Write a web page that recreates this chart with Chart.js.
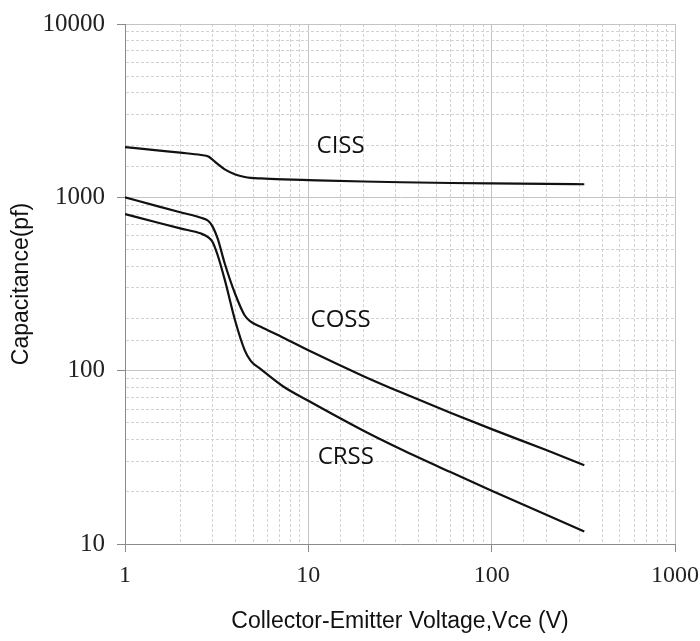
<!DOCTYPE html>
<html>
<head>
<meta charset="utf-8">
<title>Capacitance vs Vce</title>
<script src="https://cdn.jsdelivr.net/npm/chart.js@4.4.1/dist/chart.umd.min.js"></script>
<style>
    html, body { margin: 0; padding: 0; background: #fff; }
    #wrap { width: 700px; height: 641px; position: relative; }
</style>
</head>
<body>
<div id="wrap"><canvas id="capChart"></canvas></div>
<script>
// Collector-emitter voltage (V) sample points
const vce = [1, 1.5, 2, 2.6, 2.85, 3.0, 3.2, 3.5, 4.0, 4.5, 4.85, 5.5, 7.3, 10, 20, 32, 60, 100, 200, 320];
// Capacitances in pF at each voltage
const ciss = [1950, 1865, 1810, 1755, 1720, 1650, 1560, 1450, 1355, 1310, 1295, 1285, 1270, 1258, 1234, 1222, 1210, 1203, 1195, 1190];
const coss = [1000, 890, 820, 762, 730, 680, 580, 415, 275, 208, 192, 179, 155, 131, 93, 75, 57, 46, 34.7, 28.5];
const crss = [800, 716, 662, 618, 588, 555, 465, 335, 192, 131, 114, 102, 81, 67, 45, 35.2, 25.9, 20.3, 14.7, 11.8];

// Curve name labels and where they sit (data coordinates)
const curveNames = ['CISS', 'COSS', 'CRSS'];
const curveNameX = [15, 15, 16];
const curveNameY = [1980, 196, 31.7];

const xMin = 1, xMax = 1000;
const yMin = 10, yMax = 10000;

const isDecade = v => Math.abs(Math.log10(v) - Math.round(Math.log10(v))) < 1e-9;

const toPoints = ys => vce.map((v, i) => ({ x: v, y: ys[i] }));

const lineStyle = {
    borderColor: '#111',
    borderWidth: 2.2,
    pointRadius: 0,
    fill: false,
    cubicInterpolationMode: 'monotone'
};

const curveLabels = {
    id: 'curveLabels',
    afterDatasetsDraw(chart) {
        const { ctx, scales } = chart;
        ctx.save();
        ctx.font = '24px "Open Sans", sans-serif';
        ctx.fillStyle = '#111';
        ctx.textAlign = 'center';
        ctx.textBaseline = 'middle';
        curveNames.forEach((name, i) => {
            ctx.fillText(name, scales.x.getPixelForValue(curveNameX[i]), scales.y.getPixelForValue(curveNameY[i]));
        });
        ctx.restore();
    }
};

function gridFor() {
    return {
        color: c => (c.tick && isDecade(c.tick.value)) ? '#c4c4c4' : '#d2d2d2',
        lineWidth: 1,
        tickLength: 8,
        tickColor: c => (c.tick && isDecade(c.tick.value)) ? '#8a8a8a' : 'rgba(0,0,0,0)'
    };
}

function borderFor() {
    return {
        color: '#8a8a8a',
        width: 1,
        dash: c => (c.tick && !isDecade(c.tick.value)) ? [3, 2] : []
    };
}

new Chart(document.getElementById('capChart'), {
    type: 'line',
    data: {
        datasets: [
            Object.assign({ label: 'CISS', data: toPoints(ciss) }, lineStyle),
            Object.assign({ label: 'COSS', data: toPoints(coss) }, lineStyle),
            Object.assign({ label: 'CRSS', data: toPoints(crss) }, lineStyle)
        ]
    },
    options: {
        responsive: true,
        maintainAspectRatio: false,
        animation: false,
        layout: { padding: { top: 24, right: 25, left: 0, bottom: 0 } },
        plugins: {
            legend: { display: false },
            tooltip: { enabled: false }
        },
        scales: {
            x: {
                type: 'logarithmic',
                min: xMin,
                max: xMax,
                grid: gridFor(),
                border: borderFor(),
                ticks: {
                    autoSkip: false,
                    maxRotation: 0,
                    padding: 9,
                    color: '#222',
                    font: { family: '"Liberation Serif", serif', size: 24 },
                    callback: v => isDecade(v) ? String(v) : ''
                },
                title: {
                    display: true,
                    text: 'Collector-Emitter Voltage,Vce (V)',
                    color: '#111',
                    font: { family: '"Liberation Sans", Arial, sans-serif', size: 23 },
                    padding: { top: 0, bottom: 6 }
                },
                afterFit: s => {
                    s.height = 97;
                    s.paddingLeft = 0;
                    s.paddingRight = 0;
                }
            },
            y: {
                type: 'logarithmic',
                min: yMin,
                max: yMax,
                grid: gridFor(),
                border: borderFor(),
                ticks: {
                    autoSkip: false,
                    padding: 12,
                    color: '#222',
                    font: { family: '"Liberation Serif", serif', size: 25 },
                    callback: v => isDecade(v) ? String(v) : ''
                },
                title: {
                    display: true,
                    text: 'Capacitance(pf)',
                    color: '#111',
                    font: { family: '"Liberation Sans", Arial, sans-serif', size: 23 },
                    padding: { top: 8, bottom: 0 }
                },
                afterFit: s => {
                    s.width = 125;
                    s.paddingTop = 0;
                    s.paddingBottom = 0;
                }
            }
        }
    },
    plugins: [curveLabels]
});
</script>
</body>
</html>
